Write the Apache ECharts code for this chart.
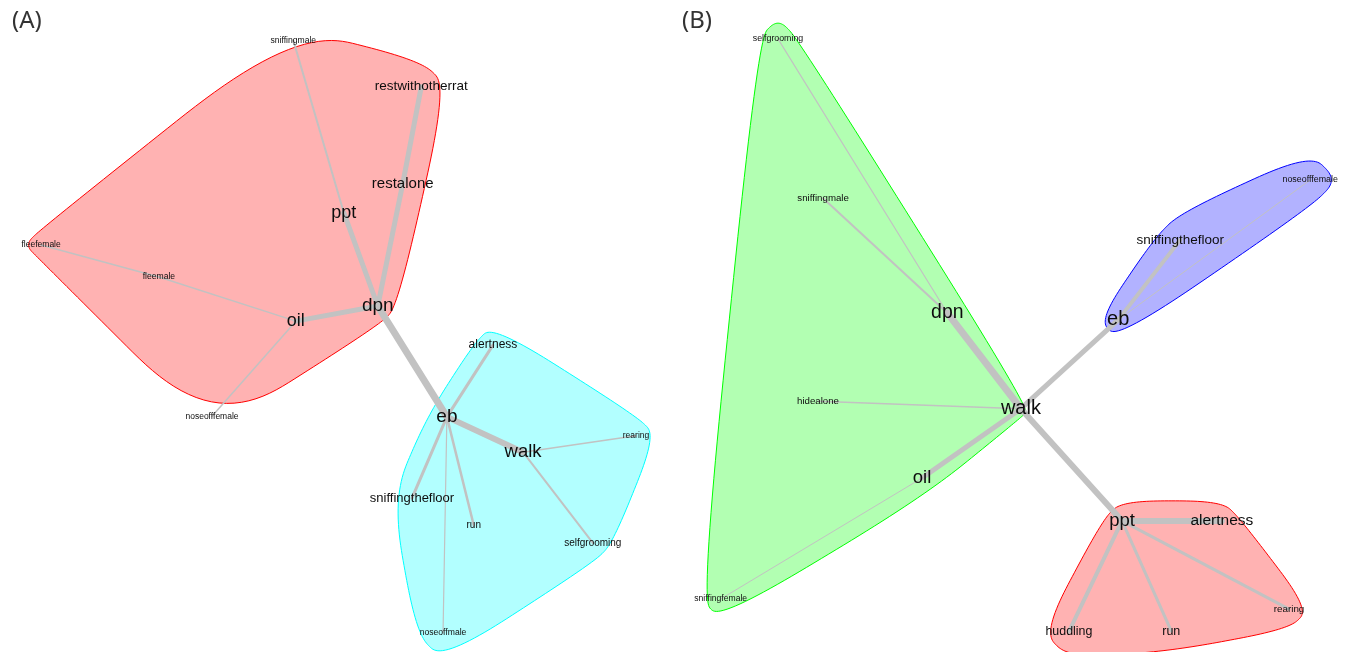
<!DOCTYPE html>
<html><head><meta charset="utf-8">
<script src="https://cdn.jsdelivr.net/npm/echarts@6/dist/echarts.min.js"></script>
<style>html,body{margin:0;padding:0;background:#fff}#c{width:1348px;height:652px}</style>
</head><body><div id="c"></div>
<script>
// ---------- DATA: panel A ----------
const nodesA = ['sniffingmale','restwithotherrat','restalone','ppt','dpn','oil','fleefemale','fleemale','noseofffemale',
                'alertness','eb','walk','rearing','sniffingthefloor','run','selfgrooming','noseoffmale'];
const xA = [42.7, 62.7, 59.8, 50.6, 55.9, 43.1, 3.3, 21.7, 30.0, 73.9, 66.7, 78.6, 96.25, 61.25, 70.9, 89.5, 66.1];
const yA = [96.8, 89.4, 74.0, 69.4, 54.6, 52.2, 64.3, 59.2, 37.1, 48.4, 37.0, 31.4, 34.0, 24.1, 19.8, 17.0, 2.7];
const communityA = [0,0,0,0,0,0,0,0,0, 1,1,1,1,1,1,1,1];
const edgeSrcA = ['dpn','dpn','restalone','dpn','dpn','ppt','oil','fleemale','oil','eb','eb','walk','walk','eb','eb','eb'];
const edgeTgtA = ['eb','restalone','restwithotherrat','ppt','oil','sniffingmale','fleemale','fleefemale','noseofffemale',
                  'alertness','walk','rearing','selfgrooming','sniffingthefloor','run','noseoffmale'];
const edgeWeightA = [7, 5, 5, 5, 5, 2, 1.5, 1.5, 1.5, 3, 6, 1.5, 2, 3, 2.5, 1.2];

// ---------- DATA: panel B ----------
const nodesB = ['selfgrooming','sniffingmale','dpn','hidealone','walk','oil','sniffingfemale',
                'eb','sniffingthefloor','noseofffemale',
                'ppt','alertness','rearing','huddling','run'];
const xB = [13.75, 20.8, 40.2, 20.0, 51.7, 36.25, 4.8, 66.9, 76.6, 96.9, 67.5, 83.1, 93.6, 59.2, 75.2];
const yB = [97.0, 71.7, 53.5, 39.5, 38.3, 27.3, 8.1, 52.4, 65.1, 74.6, 20.5, 20.5, 6.5, 2.9, 3.0];
const communityB = [1,1,1,1,1,1,1, 2,2,2, 0,0,0,0,0];
const edgeSrcB = ['walk','dpn','dpn','walk','walk','oil','walk','eb','eb','walk','ppt','ppt','ppt','ppt'];
const edgeTgtB = ['dpn','sniffingmale','selfgrooming','hidealone','oil','sniffingfemale','eb','sniffingthefloor',
                  'noseofffemale','ppt','alertness','huddling','run','rearing'];
const edgeWeightB = [7, 2, 1.2, 1.5, 5, 1, 5, 4, 1, 6, 6, 4, 3, 3];

const panelTitles = ['(A)', '(B)'];

// ---------- STYLES ----------
const labelSizeA = {dpn:19, eb:19, walk:18.5, oil:18, ppt:18, restwithotherrat:13.5, restalone:15, alertness:12,
  sniffingthefloor:13, selfgrooming:10, run:10, rearing:8.5, sniffingmale:8.6, fleefemale:8.5, fleemale:8.6,
  noseofffemale:8.5, noseoffmale:8.6};
const labelSizeB = {walk:20, dpn:19.4, eb:20, oil:18.5, ppt:18.5, alertness:15.5, sniffingthefloor:13.5, huddling:12.4,
  run:12.5, rearing:9.8, sniffingmale:9.7, selfgrooming:8.8, hidealone:9.7, sniffingfemale:8.6, noseofffemale:8.9};
const hullPadA = {sniffingmale:12, fleefemale:16, noseofffemale:15, noseoffmale:27, restwithotherrat:26};
const hullPadB = {walk:9, eb:19, sniffingthefloor:27, huddling:26, noseofffemale:27};
const defaultPad = 20;
const fillA = ['rgba(255,0,0,0.3)', 'rgba(0,255,255,0.3)'];
const borderA = ['#FF0000', '#00FFFF'];
const fillB = ['rgba(255,0,0,0.3)', 'rgba(0,255,0,0.3)', 'rgba(0,0,255,0.3)'];
const borderB = ['#FF0000', '#00FF00', '#0000FF'];

// ---------- helpers ----------
function convexHull(pts) {
  const p = pts.slice().sort((a, b) => a[0] - b[0] || a[1] - b[1]);
  const cross = (o, a, b) => (a[0]-o[0])*(b[1]-o[1]) - (a[1]-o[1])*(b[0]-o[0]);
  const lower = [], upper = [];
  for (const q of p) { while (lower.length >= 2 && cross(lower[lower.length-2], lower[lower.length-1], q) <= 0) lower.pop(); lower.push(q); }
  for (let i = p.length-1; i >= 0; i--) { const q = p[i]; while (upper.length >= 2 && cross(upper[upper.length-2], upper[upper.length-1], q) <= 0) upper.pop(); upper.push(q); }
  upper.pop(); lower.pop();
  return lower.concat(upper);
}
function fBlend(num, den) { const p = 2*den*den; const u = num/den; return u*u*u*(10 - p + (2*p - 15)*u + (6 - p)*u*u); }
function xsplineClosed(P, s, steps) {
  const n = P.length, out = [];
  for (let i = 0; i < n; i++) {
    const p0 = P[(i-1+n)%n], p1 = P[i], p2 = P[(i+1)%n], p3 = P[(i+2)%n];
    for (let j = 0; j < steps; j++) {
      const t = j/steps;
      const A0 = t < s ? fBlend(t - s, -1 - s) : 0;
      const A2 = fBlend(t + s, 1 + s);
      const A1 = fBlend(t - 1 - s, -1 - s);
      const A3 = t > 1 - s ? fBlend(t - 1 + s, 1 + s) : 0;
      const w = A0 + A1 + A2 + A3;
      out.push([(A0*p0[0]+A1*p1[0]+A2*p2[0]+A3*p3[0])/w, (A0*p0[1]+A1*p1[1]+A2*p2[1]+A3*p3[1])/w]);
    }
  }
  return out;
}
function hullSeries(nodes, xs, ys, comm, pads, fills, borders, gridIdx) {
  return {
    type: 'custom', coordinateSystem: 'cartesian2d', xAxisIndex: gridIdx, yAxisIndex: gridIdx,
    silent: true, z: 1, clip: false,
    data: fills.map((_, g) => [g, 0]),
    renderItem: function (params, api) {
      const g = params.dataIndex;
      const pts = [];
      nodes.forEach((n, i) => {
        if (comm[i] !== g) return;
        const c = api.coord([xs[i], ys[i]]);
        const r = pads[n] !== undefined ? pads[n] : defaultPad;
        pts.push(c, [c[0]-r, c[1]], [c[0]+r, c[1]], [c[0], c[1]-r], [c[0], c[1]+r]);
      });
      const hull = convexHull(pts);
      const curve = xsplineClosed(hull, 0.5, 24);
      return { type: 'polygon', shape: { points: curve },
        style: { fill: fills[g], stroke: borders[g], lineWidth: 1 } };
    }
  };
}
function graphSeries(nodes, xs, ys, src, tgt, w, sizes, gridIdx) {
  return {
    type: 'graph', coordinateSystem: 'cartesian2d', xAxisIndex: gridIdx, yAxisIndex: gridIdx,
    layout: 'none', silent: true, z: 3, symbol: 'circle', symbolSize: 1,
    itemStyle: { color: 'rgba(0,0,0,0)' },
    label: { show: true, position: 'inside', formatter: '{b}', color: '#0d0d0d',
             fontFamily: '"Liberation Sans", Arial, sans-serif' },
    lineStyle: { color: '#c2c2c2', opacity: 1, curveness: 0, cap: 'round' },
    emphasis: { disabled: true },
    data: nodes.map((n, i) => ({ name: n, value: [xs[i], ys[i]], label: { fontSize: sizes[n] } })),
    links: src.map((s, i) => ({ source: s, target: tgt[i], lineStyle: { width: w[i] } }))
  };
}

const chart = echarts.init(document.getElementById('c'), null, { renderer: 'canvas' });
const axisX = i => ({ type: 'value', gridIndex: i, min: 0, max: 100, show: false });
const axisY = i => ({ type: 'value', gridIndex: i, min: 0, max: 100, show: false });
chart.setOption({
  animation: false,
  backgroundColor: '#ffffff',
  title: panelTitles.map((t, i) => ({
    text: t, left: i === 0 ? 7 : 677, top: 4,
    textStyle: { fontSize: 24, fontWeight: 'normal', color: '#333', fontFamily: '"Noto Sans", "Open Sans", sans-serif' }
  })),
  grid: [
    { left: 20, top: 20, width: 640, height: 630 },
    { left: 690, top: 20, width: 640, height: 630 }
  ],
  xAxis: [axisX(0), axisX(1)],
  yAxis: [axisY(0), axisY(1)],
  series: [
    hullSeries(nodesA, xA, yA, communityA, hullPadA, fillA, borderA, 0),
    hullSeries(nodesB, xB, yB, communityB, hullPadB, fillB, borderB, 1),
    graphSeries(nodesA, xA, yA, edgeSrcA, edgeTgtA, edgeWeightA, labelSizeA, 0),
    graphSeries(nodesB, xB, yB, edgeSrcB, edgeTgtB, edgeWeightB, labelSizeB, 1)
  ]
});
</script>
</body></html>
